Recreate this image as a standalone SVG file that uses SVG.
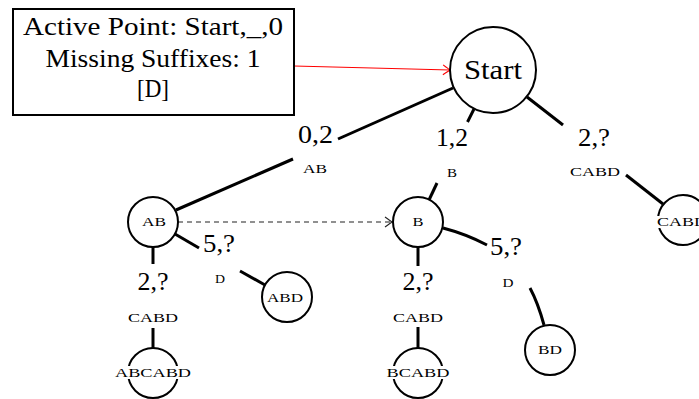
<svg xmlns="http://www.w3.org/2000/svg" width="699" height="399" viewBox="0 0 699 399">
  <style>
    .node { fill: #fff; stroke: #000; stroke-width: 2; }
    .edge { fill: none; stroke: #000; stroke-width: 3; }
    .bg { fill: #fff; stroke: none; }
  </style>
  <defs>
    <marker id="toRed" markerUnits="userSpaceOnUse" markerWidth="12" markerHeight="12" viewBox="-10 -6 12 12" refX="0" refY="0" orient="auto">
      <path d="M-7,-5 Q-1.5,-1 0,0 Q-1.5,1 -7,5" fill="none" stroke="#f00" stroke-width="1.1"/>
    </marker>
    <marker id="toDark" markerUnits="userSpaceOnUse" markerWidth="12" markerHeight="12" viewBox="-10 -6 12 12" refX="0" refY="0" orient="auto">
      <path d="M-7,-5 Q-1.5,-1 0,0 Q-1.5,1 -7,5" fill="none" stroke="#222" stroke-width="1.1"/>
    </marker>
  </defs>

  <rect width="699" height="399" fill="#fff"/>

  <!-- connectors -->
  <g id="connectors">
    <!-- Start to AB, split around the label -->
    <path class="edge" d="M453,88 L338,139"/>
    <path class="edge" d="M293,159 L176,210"/>
    <!-- Start to B -->
    <path class="edge" d="M474,109 L467.5,122"/>
    <path class="edge" d="M437,183 L429,200"/>
    <!-- Start to CABD -->
    <path class="edge" d="M527,97 L563,125"/>
    <path class="edge" d="M626,175 L663,204"/>
    <!-- AB to ABD -->
    <path class="edge" d="M175,234 L199,248"/>
    <path class="edge" d="M240,271 L265,285"/>
    <!-- AB to ABCABD -->
    <path class="edge" d="M153,247 L153,264"/>
    <path class="edge" d="M153,328 L153,348"/>
    <!-- B to BCABD -->
    <path class="edge" d="M418,247 L418,266"/>
    <path class="edge" d="M418,327 L418,348"/>
    <!-- B to BD (bent) -->
    <path class="edge" d="M443,228 Q466,234 487,245"/>
    <path class="edge" d="M530,288 Q538,303 544,325"/>
    <!-- suffix link AB to B -->
    <path d="M178,222 L392,222" fill="none" stroke="#222" stroke-width="1.1" stroke-dasharray="5 4" marker-end="url(#toDark)"/>
    <!-- active point pointer -->
    <path d="M294,66 L450,70" fill="none" stroke="#f00" stroke-width="1.1" marker-end="url(#toRed)"/>
  </g>

  <!-- edge labels -->
  <g id="edge-labels" text-anchor="middle" fill="#000">
    <text font-family="Liberation Serif" font-size="25" x="315.5" y="143" textLength="35" lengthAdjust="spacingAndGlyphs">0,2</text>
    <text font-family="Liberation Serif" font-size="11.5" x="315" y="173" textLength="24" lengthAdjust="spacingAndGlyphs">AB</text>
    <text font-family="Liberation Serif" font-size="25" x="452" y="146" textLength="32" lengthAdjust="spacingAndGlyphs">1,2</text>
    <text font-family="Liberation Serif" font-size="11.5" x="452" y="177" textLength="10" lengthAdjust="spacingAndGlyphs">B</text>
    <text font-family="Liberation Serif" font-size="25" x="594" y="146" textLength="32" lengthAdjust="spacingAndGlyphs">2,?</text>
    <text font-family="Liberation Serif" font-size="11.5" x="595" y="176" textLength="50" lengthAdjust="spacingAndGlyphs">CABD</text>
    <text font-family="Liberation Serif" font-size="25" x="219" y="252" textLength="32" lengthAdjust="spacingAndGlyphs">5,?</text>
    <text font-family="Liberation Serif" font-size="11.5" x="220" y="283" textLength="10" lengthAdjust="spacingAndGlyphs">D</text>
    <text font-family="Liberation Serif" font-size="25" x="153" y="290" textLength="31" lengthAdjust="spacingAndGlyphs">2,?</text>
    <text font-family="Liberation Serif" font-size="11.5" x="153" y="322" textLength="50" lengthAdjust="spacingAndGlyphs">CABD</text>
    <text font-family="Liberation Serif" font-size="25" x="506" y="255" textLength="32" lengthAdjust="spacingAndGlyphs">5,?</text>
    <text font-family="Liberation Serif" font-size="11.5" x="508" y="287" textLength="11" lengthAdjust="spacingAndGlyphs">D</text>
    <text font-family="Liberation Serif" font-size="25" x="418" y="290" textLength="31" lengthAdjust="spacingAndGlyphs">2,?</text>
    <text font-family="Liberation Serif" font-size="11.5" x="418" y="322" textLength="50" lengthAdjust="spacingAndGlyphs">CABD</text>
  </g>

  <!-- status box -->
  <g id="status" text-anchor="middle" fill="#000">
    <rect x="13" y="9" width="281" height="106" fill="#fff" stroke="#000" stroke-width="2"/>
    <text font-family="Liberation Serif" font-size="25" x="153" y="35" textLength="260" lengthAdjust="spacingAndGlyphs">Active Point: Start,_,0</text>
    <text font-family="Liberation Serif" font-size="25" x="153" y="67" textLength="215" lengthAdjust="spacingAndGlyphs">Missing Suffixes: 1</text>
    <text font-family="Liberation Serif" font-size="25" x="153" y="97" textLength="32" lengthAdjust="spacingAndGlyphs">[D]</text>
  </g>

  <!-- nodes -->
  <g id="nodes" text-anchor="middle" fill="#000">
    <g id="node-start">
      <circle class="node" cx="493" cy="70" r="43"/>
      <text font-family="Liberation Serif" font-size="27" x="493" y="79" textLength="58" lengthAdjust="spacingAndGlyphs">Start</text>
    </g>
    <g id="node-ab">
      <circle class="node" cx="153" cy="222" r="25"/>
      <text font-family="Liberation Serif" font-size="11.5" x="154" y="226" textLength="24" lengthAdjust="spacingAndGlyphs">AB</text>
    </g>
    <g id="node-b">
      <circle class="node" cx="418" cy="222" r="25"/>
      <text font-family="Liberation Serif" font-size="11.5" x="418" y="226" textLength="11" lengthAdjust="spacingAndGlyphs">B</text>
    </g>
    <g id="node-cabd">
      <circle class="node" cx="683" cy="220" r="25"/>
      <rect class="bg" x="656" y="216" width="54" height="12"/>
      <text font-family="Liberation Serif" font-size="11.5" x="682" y="226" textLength="50" lengthAdjust="spacingAndGlyphs">CABD</text>
    </g>
    <g id="node-abd">
      <circle class="node" cx="287" cy="297" r="25"/>
      <text font-family="Liberation Serif" font-size="11.5" x="285" y="302" textLength="36" lengthAdjust="spacingAndGlyphs">ABD</text>
    </g>
    <g id="node-abcabd">
      <circle class="node" cx="153" cy="373" r="25"/>
      <rect class="bg" x="114" y="366" width="78" height="13"/>
      <text font-family="Liberation Serif" font-size="11.5" x="153" y="377" textLength="76" lengthAdjust="spacingAndGlyphs">ABCABD</text>
    </g>
    <g id="node-bcabd">
      <circle class="node" cx="418" cy="373" r="25"/>
      <rect class="bg" x="385" y="366" width="66" height="13"/>
      <text font-family="Liberation Serif" font-size="11.5" x="418" y="377" textLength="63" lengthAdjust="spacingAndGlyphs">BCABD</text>
    </g>
    <g id="node-bd">
      <circle class="node" cx="550" cy="350" r="25"/>
      <text font-family="Liberation Serif" font-size="11.5" x="550" y="354" textLength="24" lengthAdjust="spacingAndGlyphs">BD</text>
    </g>
  </g>
</svg>
